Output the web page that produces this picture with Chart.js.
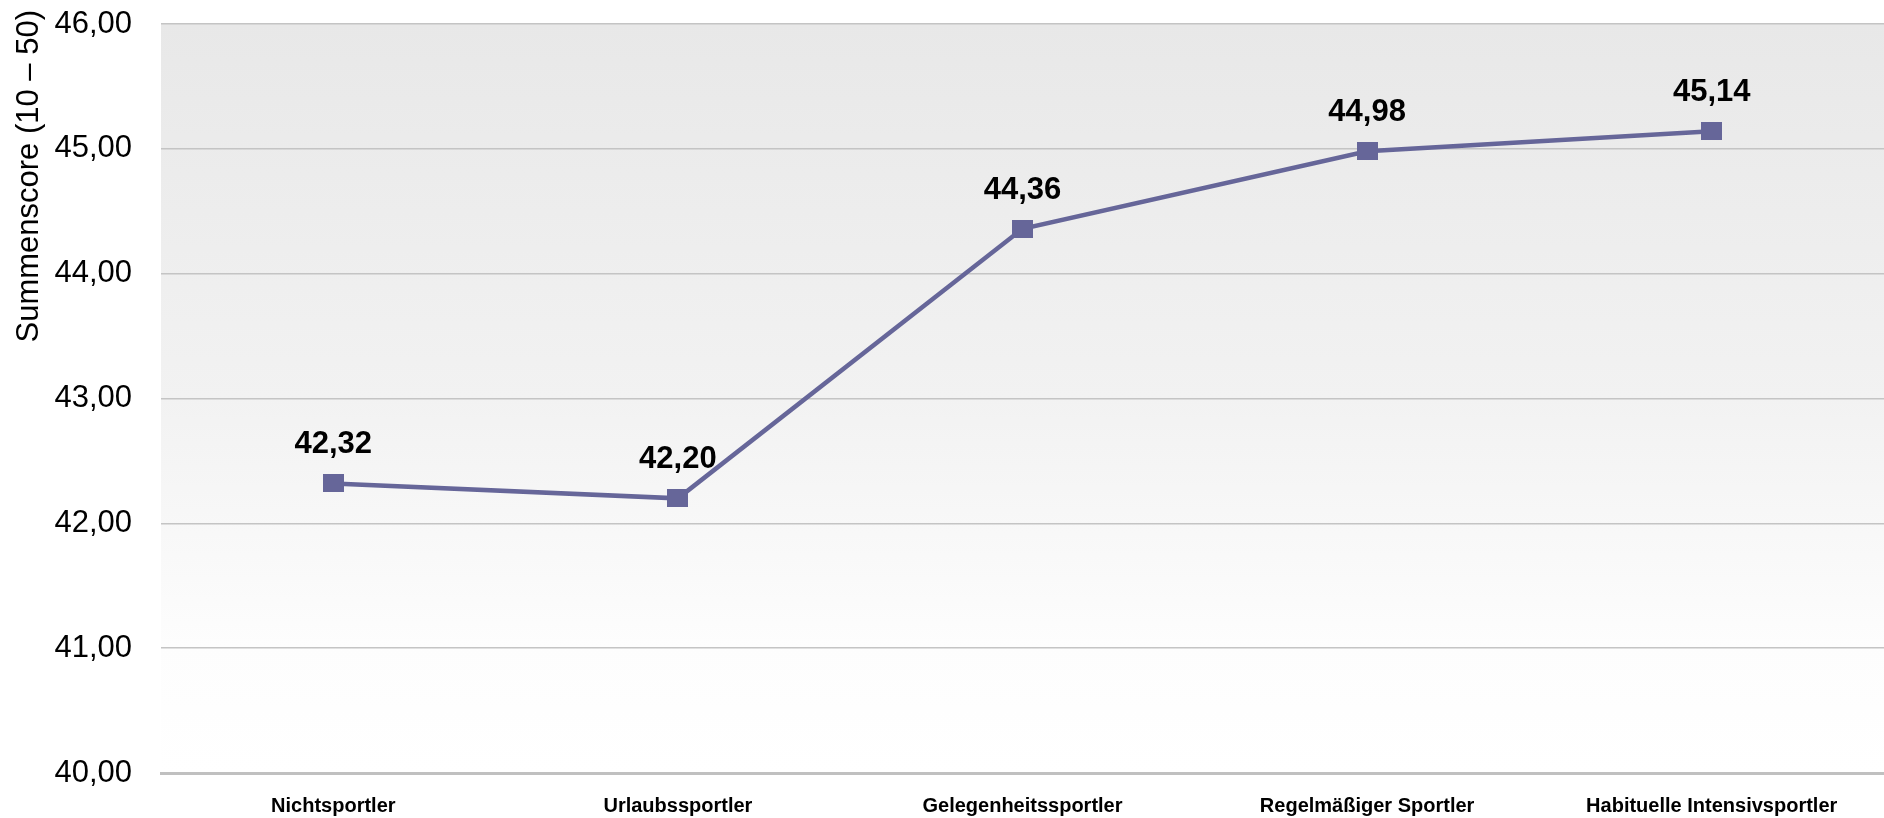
<!DOCTYPE html>
<html lang="de">
<head>
<meta charset="utf-8">
<title>Summenscore nach Sportlertyp</title>
<script src="https://cdn.jsdelivr.net/npm/chart.js@4"></script>
<style>
  html, body { margin: 0; padding: 0; background: #fff; }
  #wrap { width: 1884px; height: 818px; position: relative; }
</style>
</head>
<body>
<div id="wrap"><canvas id="scoreChart"></canvas></div>
<script>
/* Summenscore (10 – 50) je Sportlertyp */

const categories = ['Nichtsportler', 'Urlaubssportler', 'Gelegenheitssportler', 'Regelmäßiger Sportler', 'Habituelle Intensivsportler'];
const scores = [42.32, 42.20, 44.36, 44.98, 45.14];
const yTicks = [40, 41, 42, 43, 44, 45, 46];
const yTitle = 'Summenscore (10 – 50)';

const LINE = '#666699';
const FONT = "Arial, 'Liberation Sans', sans-serif";

const fmtDe = v => Number(v).toFixed(2).replace('.', ',');

// square-ish marker drawn onto a small canvas and used as pointStyle
const marker = document.createElement('canvas');
marker.width = 21;
marker.height = 18;
const mctx = marker.getContext('2d');
mctx.fillStyle = LINE;
mctx.fillRect(0, 0, marker.width, marker.height);

// soft grey-to-white fill behind the plot
const plotBackground = {
  id: 'plotBackground',
  beforeDraw(chart) {
    const { ctx, chartArea: a } = chart;
    const g = ctx.createLinearGradient(0, a.top, 0, a.bottom);
    g.addColorStop(0, '#e8e8e8');
    g.addColorStop(0.5, '#f2f2f2');
    g.addColorStop(0.83, '#fdfdfd');
    g.addColorStop(1, '#ffffff');
    ctx.save();
    ctx.fillStyle = g;
    ctx.fillRect(a.left, a.top, a.right - a.left, a.bottom - a.top);
    ctx.restore();
  }
};

// value labels above each point
const valueLabels = {
  id: 'valueLabels',
  afterDatasetsDraw(chart) {
    const { ctx } = chart;
    const meta = chart.getDatasetMeta(0);
    ctx.save();
    ctx.font = 'bold 31px ' + FONT;
    ctx.fillStyle = '#000';
    ctx.textAlign = 'center';
    ctx.textBaseline = 'alphabetic';
    meta.data.forEach((pt, i) => {
      ctx.fillText(fmtDe(chart.data.datasets[0].data[i]), pt.x, pt.y - 30);
    });
    ctx.restore();
  }
};

// rotated y-axis title, anchored near the top edge
const axisTitle = {
  id: 'axisTitle',
  afterDraw(chart) {
    const { ctx } = chart;
    ctx.save();
    ctx.translate(29.5, 10);
    ctx.rotate(-Math.PI / 2);
    ctx.font = '31px ' + FONT;
    ctx.fillStyle = '#000';
    ctx.textAlign = 'right';
    ctx.textBaseline = 'middle';
    ctx.fillText(yTitle, 0, 0);
    ctx.restore();
  }
};

new Chart(document.getElementById('scoreChart'), {
  type: 'line',
  data: {
    labels: categories,
    datasets: [{
      label: yTitle,
      data: scores,
      borderColor: LINE,
      borderWidth: 4.5,
      tension: 0,
      fill: false,
      pointStyle: marker,
      pointRadius: 10,
      pointHoverRadius: 10,
      backgroundColor: LINE
    }]
  },
  options: {
    responsive: true,
    maintainAspectRatio: false,
    animation: false,
    layout: { autoPadding: false, padding: { left: 54, right: 0, top: 24, bottom: 0 } },
    plugins: {
      legend: { display: false },
      tooltip: { enabled: false }
    },
    scales: {
      x: {
        offset: true,
        grid: { display: false, drawTicks: false },
        border: { display: true, color: '#c0c0c0', width: 3 },
        ticks: {
          color: '#000',
          font: { family: FONT, size: 20, weight: 'bold' },
          padding: 21,
          maxRotation: 0,
          autoSkip: false
        },
        // padding is counted twice by fit(); keep the band tight
        afterFit: scale => { scale.height = 45; }
      },
      y: {
        min: yTicks[0],
        max: yTicks[yTicks.length - 1],
        afterBuildTicks: scale => { scale.ticks = yTicks.map(v => ({ value: v })); },
        grid: { color: '#c4c4c4', lineWidth: 1.5, drawTicks: false },
        border: { display: false },
        ticks: {
          color: '#000',
          font: { family: FONT, size: 31 },
          padding: 29,
          callback: v => fmtDe(v)
        },
        afterFit: scale => {
          scale.width = 29 + 78;
          scale.paddingTop = 0;
          scale.paddingBottom = 0;
        }
      }
    }
  },
  plugins: [plotBackground, valueLabels, axisTitle]
});
</script>
</body>
</html>
